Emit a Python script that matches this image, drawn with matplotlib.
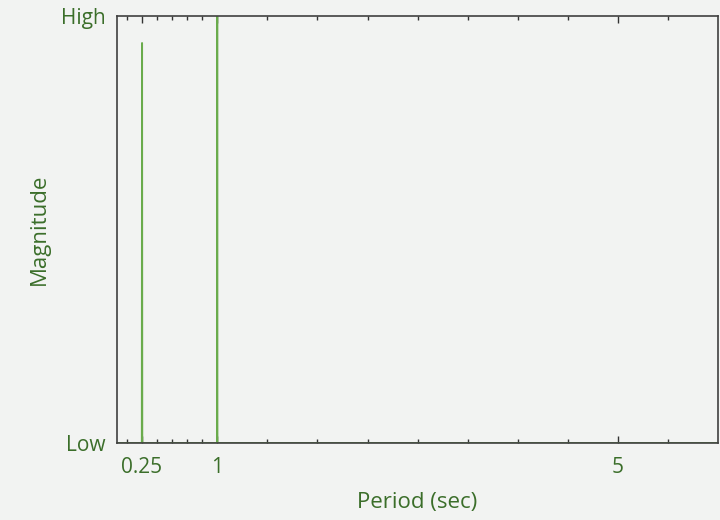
import numpy as np
import matplotlib
matplotlib.use('Agg')
import matplotlib.pyplot as plt

plt.rcParams['font.family'] = ['Open Sans', 'DejaVu Sans']

# spectrum data: period (sec) vs normalized magnitude
period = [0.0, 0.248, 0.25, 0.252, 0.998, 1.0, 1.002, 6.0]
magnitude = [0.0, 0.0, 0.937, 0.0, 0.0, 1.0, 0.0, 0.0]

major_ticks = [0.25, 1, 5]
major_labels = ['0.25', '1', '5']
minor_ticks = [0.1, 0.4, 0.55, 0.7, 0.85, 1.5, 2, 2.5, 3, 3.5, 4, 4.5, 5.5]

bg = '#f2f3f2'
text_green = '#3b6e2a'
line_green = '#6aab4c'

fig = plt.figure(figsize=(7.2, 5.2), dpi=100, facecolor=bg)
ax = fig.add_axes([0.1625, 0.148, 0.835, 0.821], facecolor=bg)

ax.plot(period, magnitude, color=line_green, lw=1.4)

ax.set_xlim(0, 6)
ax.set_ylim(0, 1)
ax.set_xticks(major_ticks)
ax.set_xticklabels(major_labels)
ax.set_xticks(minor_ticks, minor=True)
ax.set_yticks([0, 1])
ax.set_yticklabels(['Low', 'High'])

ax.tick_params(axis='x', which='both', direction='in', top=True, colors='#333333',
               labelcolor=text_green, labelsize=15, pad=10)
ax.tick_params(axis='x', which='major', length=5, width=1)
ax.tick_params(axis='x', which='minor', length=3, width=1)
ax.tick_params(axis='y', which='both', length=0, labelcolor=text_green, labelsize=15, pad=8)

for s in ax.spines.values():
    s.set_color('#404040')
    s.set_linewidth(1.2)

ax.set_xlabel('Period (sec)', color=text_green, fontsize=16, labelpad=10)
ax.set_ylabel('Magnitude', color=text_green, fontsize=16, labelpad=8)

fig.savefig('out.png', dpi=100, facecolor=bg)
